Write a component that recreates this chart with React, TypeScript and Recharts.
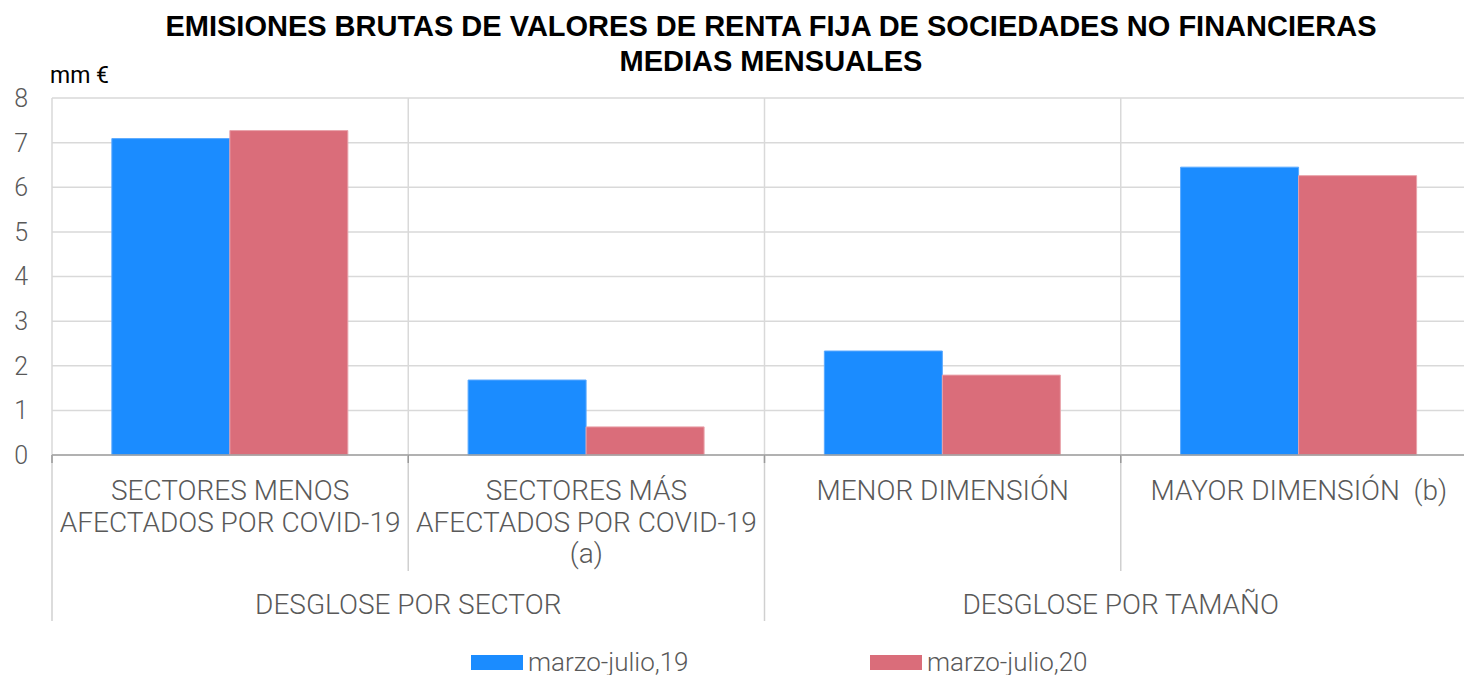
import {
  BarChart,
  Bar,
  XAxis,
  YAxis,
  CartesianGrid,
  Legend,
} from 'recharts';

const categories = [
  ['SECTORES MENOS', 'AFECTADOS POR COVID-19'],
  ['SECTORES MÁS', 'AFECTADOS POR COVID-19', '(a)'],
  ['MENOR DIMENSIÓN'],
  ['MAYOR DIMENSIÓN  (b)'],
];
const groups = ['DESGLOSE POR SECTOR', 'DESGLOSE POR TAMAÑO'];
const serie19 = [7.09, 1.68, 2.33, 6.45];
const serie20 = [7.27, 0.63, 1.79, 6.26];
const yTicks = [0, 1, 2, 3, 4, 5, 6, 7, 8];
const seriesNames = ['marzo-julio,19', 'marzo-julio,20'];

const BLUE = '#1B8CFF';
const RED = '#DA6D7A';
const GRAY_TEXT = '#595959';
const FONT = 'Roboto, "Liberation Sans", sans-serif';

const data = categories.map((lines, i) => ({
  name: lines.join(' '),
  lines,
  group: groups[i < 2 ? 0 : 1],
  a: serie19[i],
  b: serie20[i],
}));

function CategoryTick(props: any) {
  const { x, y, index, width, visibleTicksCount } = props;
  const band = width / visibleTicksCount;
  const left = x - band / 2;
  const cat = data[index];
  const first = index % 2 === 0;
  return (
    <g>
      {/* separator on the left of each category, longer where a group starts */}
      <line x1={left} x2={left} y1={y - 8} y2={y + (first ? 158 : 108)} stroke="#d0d0d0" strokeWidth={1.5} />
      <line x1={left} x2={left} y1={y - 8} y2={y} stroke="#9a9a9a" strokeWidth={1.5} />
      {index === visibleTicksCount - 1 && (
        <line x1={x + band / 2} x2={x + band / 2} y1={y - 8} y2={y + 158} stroke="#d0d0d0" strokeWidth={1.5} />
      )}
      {cat.lines.map((t: string, i: number) => (
        <text
          key={i}
          x={x}
          y={y + 37 + i * 31.5}
          textAnchor="middle"
          fill={GRAY_TEXT}
          fontSize={28}
          fontWeight={300}
          fontFamily={FONT}
          xmlSpace="preserve"
          style={{ whiteSpace: 'pre' }}
        >
          {t}
        </text>
      ))}
      {first && (
        <text
          x={x + band / 2}
          y={y + 151}
          textAnchor="middle"
          fill={GRAY_TEXT}
          fontSize={28}
          fontWeight={300}
          fontFamily={FONT}
        >
          {cat.group}
        </text>
      )}
    </g>
  );
}

function LegendContent() {
  const colors = [BLUE, RED];
  return (
    <div style={{ height: 60, paddingLeft: 471, display: 'flex', alignItems: 'flex-end', boxSizing: 'border-box' }}>
      {seriesNames.map((n, i) => (
        <div key={n} style={{ width: 399, display: 'flex', alignItems: 'center', height: 30, marginBottom: 3 }}>
          <span style={{ width: 52, height: 15, background: colors[i], display: 'inline-block', marginRight: 5 }} />
          <span style={{ fontFamily: FONT, fontWeight: 300, fontSize: 26, color: GRAY_TEXT }}>{n}</span>
        </div>
      ))}
    </div>
  );
}

export default function App() {
  return (
    <div style={{ position: 'absolute', left: 0, top: 0, width: 1464, height: 675, overflow: 'hidden', background: '#fff' }}>
      <div
        style={{
          position: 'absolute',
          left: 0,
          width: 1542,
          top: 9,
          textAlign: 'center',
          fontFamily: '"Liberation Sans", Arial, sans-serif',
          fontWeight: 700,
          fontSize: 29,
          lineHeight: '35px',
          color: '#000',
          whiteSpace: 'nowrap',
        }}
      >
        EMISIONES BRUTAS DE VALORES DE RENTA FIJA DE SOCIEDADES NO FINANCIERAS
        <br />
        MEDIAS MENSUALES
      </div>
      <div
        style={{
          position: 'absolute',
          left: 50,
          top: 62,
          fontFamily: FONT,
          fontSize: 23,
          color: '#000',
        }}
      >
        mm €
      </div>
      <div style={{ position: 'absolute', left: 0, top: 0 }}>
        <BarChart
          width={1480}
          height={690}
          data={data}
          margin={{ top: 98, right: 3, left: 0, bottom: 10 }}
          barCategoryGap="16.8%"
          barGap={0}
        >
          <CartesianGrid
            stroke="#d9d9d9"
            strokeWidth={1.5}
            verticalCoordinatesGenerator={({ offset }: any) =>
              categories.map((_, i) => offset.left + (offset.width * i) / categories.length).concat(offset.left + offset.width)
            }
          />
          <XAxis
            dataKey="name"
            interval={0}
            height={165}
            axisLine={{ stroke: '#a0a0a0', strokeWidth: 1.5 }}
            tickLine={false}
            tick={<CategoryTick />}
          />
          <YAxis
            domain={[0, 8]}
            ticks={yTicks}
            width={52}
            axisLine={false}
            tickLine={false}
            tickSize={0}
            tickMargin={24}
            tick={{ fill: GRAY_TEXT, fontSize: 25, fontWeight: 300, fontFamily: FONT }}
          />
          <Legend verticalAlign="bottom" content={<LegendContent />} wrapperStyle={{ left: 0, width: 1480 }} />
          <Bar dataKey="a" name={seriesNames[0]} fill={BLUE} stroke="#5aa9ff" strokeWidth={1} isAnimationActive={false} />
          <Bar dataKey="b" name={seriesNames[1]} fill={RED} stroke="#e9a3ab" strokeWidth={1} isAnimationActive={false} />
        </BarChart>
      </div>
    </div>
  );
}
